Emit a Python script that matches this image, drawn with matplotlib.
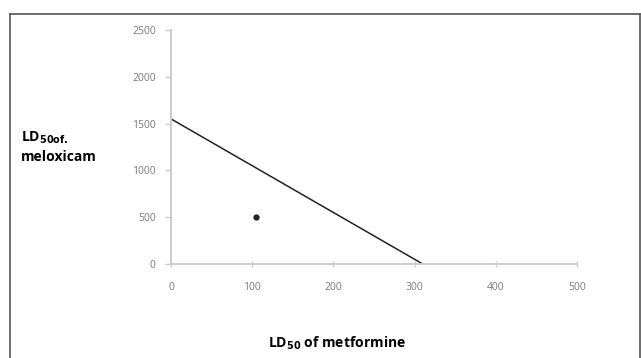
import matplotlib.pyplot as plt
from matplotlib.lines import Line2D

# isobologram data
line_x = [0, 310]
line_y = [1550, 0]
point_x = [105]
point_y = [500]
x_ticks = [0, 100, 200, 300, 400, 500]
y_ticks = [0, 500, 1000, 1500, 2000, 2500]

plt.rcParams['font.family'] = ['Open Sans', 'DejaVu Sans']

fig = plt.figure(figsize=(6.41, 3.58), dpi=100)
ax = fig.add_axes([0.2668, 0.2626, 0.6334, 0.6536])

ax.plot(line_x, line_y, color='#222222', lw=1.1)
ax.plot(point_x, point_y, 'o', color='#222222', ms=3.5)

ax.set_xlim(0, 500)
ax.set_ylim(0, 2500)
ax.set_xticks(x_ticks)
ax.set_yticks(y_ticks)

for s in ['top', 'right']:
    ax.spines[s].set_visible(False)
for s in ['left', 'bottom']:
    ax.spines[s].set_color('#cccccc')
    ax.spines[s].set_linewidth(1.4)

ax.tick_params(axis='y', direction='out', length=4, width=1, color='#cccccc',
               labelsize=7.5, labelcolor='#7a7a7a', pad=7)
ax.tick_params(axis='x', direction='inout', length=4, width=1, color='#cccccc',
               labelsize=7.5, labelcolor='#7a7a7a', pad=11)

fig.text(0.033, 0.615, r'LD$_{\mathbf{50 of.}}$', fontsize=10, fontweight='bold',
         ha='left', va='center')
fig.text(0.033, 0.562, 'meloxicam', fontsize=10, fontweight='bold',
         ha='left', va='center')
fig.text(0.525, 0.042, r'LD$_{\mathbf{50}}$ of metformine', fontsize=10, fontweight='bold',
         ha='center', va='center')

# outer frame, open at the bottom
frame = dict(color='#555555', lw=1.2, transform=fig.transFigure)
fig.add_artist(Line2D([0.016, 0.016], [0.0, 0.961], **frame))
fig.add_artist(Line2D([0.016, 0.998], [0.961, 0.961], **frame))
fig.add_artist(Line2D([0.998, 0.998], [0.0, 0.961], **frame))

fig.savefig('out.png', dpi=100)
